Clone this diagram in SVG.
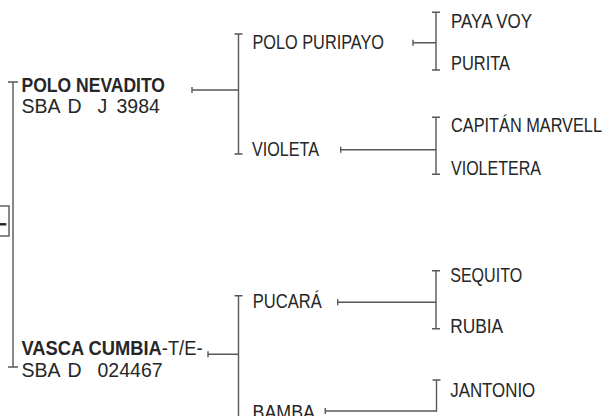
<svg xmlns="http://www.w3.org/2000/svg" width="608" height="416" viewBox="0 0 608 416">
<style>
.ln{stroke:#575757;stroke-width:1.4;fill:none}
.t{font-family:"Liberation Sans Narrow","Liberation Sans",Arial,sans-serif;font-size:19.5px;fill:#262626}
.b{font-weight:bold}
</style>
<rect width="608" height="416" fill="#ffffff"/>
<g id="connectors">
<rect class="ln" x="-2" y="206" width="11" height="30"/>
<path d="M0,224.3 H6.3" stroke="#222" stroke-width="2.4" fill="none"/>
<path class="ln" d="M8,82 H18 M13,82 V367 M8,367 H18"/>
<path class="ln" d="M192,87 V93 M192,90 H238.5"/>
<path class="ln" d="M234.5,34 H242.5 M238.5,34 V154 M234.5,154 H242.5"/>
<path class="ln" d="M413,39.7 V45.7 M413,42.7 H436"/>
<path class="ln" d="M432,12.3 H440 M436,12.3 V70 M432,70 H440"/>
<path class="ln" d="M340.7,146.7 V152.7 M340.7,149.7 H436"/>
<path class="ln" d="M432,117.3 H440 M436,117.3 V174.3 M432,174.3 H440"/>
<path class="ln" d="M208,351.3 V357.3 M208,354.3 H238.5"/>
<path class="ln" d="M234.5,295.7 H242.5 M238.5,295.7 V420"/>
<path class="ln" d="M337.7,299.3 V305.3 M337.7,302.3 H436"/>
<path class="ln" d="M432,270.7 H440 M436,270.7 V328.7 M432,328.7 H440"/>
<path class="ln" d="M325.3,408 V414 M325.3,411 H436.5"/>
<path class="ln" d="M432.5,380 H440.5 M436.5,380 V411.7"/>
</g>
<g id="polo-nevadito">
<text class="t b" x="21.5" y="91.5" textLength="143.5" lengthAdjust="spacingAndGlyphs">POLO NEVADITO</text>
<text class="t" y="113.3"><tspan x="21.5">SBA</tspan><tspan x="67.5">D</tspan><tspan x="97.5">J</tspan><tspan x="116.5">3984</tspan></text>
</g>
<g id="polo-puripayo">
<text class="t" x="252.5" y="49" textLength="131.5" lengthAdjust="spacingAndGlyphs">POLO PURIPAYO</text>
</g>
<g id="violeta">
<text class="t" x="252" y="156" textLength="67" lengthAdjust="spacingAndGlyphs">VIOLETA</text>
</g>
<g id="paya-voy">
<text class="t" x="451" y="28.3" textLength="81" lengthAdjust="spacingAndGlyphs">PAYA VOY</text>
</g>
<g id="purita">
<text class="t" x="451" y="70.3" textLength="59" lengthAdjust="spacingAndGlyphs">PURITA</text>
</g>
<g id="capitan-marvell">
<text class="t" x="451" y="132.3" textLength="151" lengthAdjust="spacingAndGlyphs">CAPITÁN MARVELL</text>
</g>
<g id="violetera">
<text class="t" x="451" y="174.7" textLength="90" lengthAdjust="spacingAndGlyphs">VIOLETERA</text>
</g>
<g id="vasca-cumbia">
<text class="t" x="21.5" y="354.5" textLength="181" lengthAdjust="spacingAndGlyphs"><tspan class="b">VASCA CUMBIA</tspan>-T/E-</text>
<text class="t" y="376.7"><tspan x="21.5">SBA</tspan><tspan x="67.5">D</tspan><tspan x="97.5">024467</tspan></text>
</g>
<g id="pucara">
<text class="t" x="252.7" y="308.3" textLength="69" lengthAdjust="spacingAndGlyphs">PUCARÁ</text>
</g>
<g id="bamba">
<text class="t" x="252.5" y="419" textLength="62.5" lengthAdjust="spacingAndGlyphs">BAMBA</text>
</g>
<g id="sequito">
<text class="t" x="450.2" y="282.3" textLength="72" lengthAdjust="spacingAndGlyphs">SEQUITO</text>
</g>
<g id="rubia">
<text class="t" x="450.2" y="332.7" textLength="53" lengthAdjust="spacingAndGlyphs">RUBIA</text>
</g>
<g id="jantonio">
<text class="t" x="450.2" y="396.7" textLength="85" lengthAdjust="spacingAndGlyphs">JANTONIO</text>
</g>
</svg>
